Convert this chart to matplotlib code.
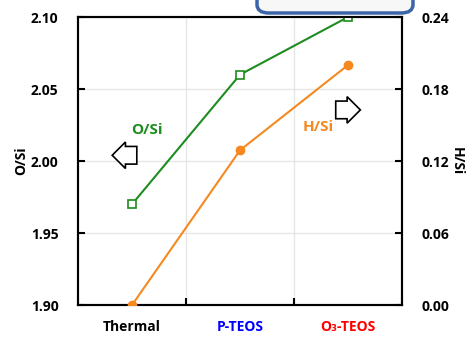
import matplotlib
matplotlib.use("Agg")
from matplotlib import pyplot as plt
from matplotlib.patches import FancyBboxPatch

plt.rcParams['font.family'] = ['Open Sans', 'DejaVu Sans']
plt.rcParams['font.weight'] = 'bold'

categories = ["Thermal", "P-TEOS", "O\u2083-TEOS"]
cat_colors = ["black", "blue", "red"]
o_si = [1.970, 2.060, 2.100]
h_si = [0.000, 0.129, 0.200]

green = '#1e8c1e'
orange = '#f5891f'

fig = plt.figure(figsize=(4.73, 3.38), dpi=100)
ax = fig.add_axes([0.165, 0.0976, 0.685, 0.852])
ax2 = ax.twinx()

x = range(len(categories))
ax.plot(x, o_si, color=green, lw=1.5, marker='s', ms=5.5, mfc='white', mec=green, mew=1.2, zorder=3)
ax2.plot(x, h_si, color=orange, lw=1.5, marker='o', ms=6, mfc=orange, mec=orange, zorder=3)

ax.set_xlim(-0.5, 2.5)
ax.set_ylim(1.90, 2.10)
ax.set_yticks([1.90, 1.95, 2.00, 2.05, 2.10])
ax.set_yticklabels(["%.2f" % v for v in [1.90, 1.95, 2.00, 2.05, 2.10]])
ax2.set_ylim(0, 0.24)
ax2.set_yticks([0, 0.06, 0.12, 0.18, 0.24])
ax2.set_yticklabels(["%.2f" % v for v in [0, 0.06, 0.12, 0.18, 0.24]])

ax.set_xticks([0.5, 1.5])
ax.set_xticklabels([])
ax.set_xticks(list(x), minor=True)
ax.set_xticklabels(categories, minor=True)
ax.tick_params(axis='x', which='minor', length=0, pad=11, labelsize=10)
ax.tick_params(axis='x', which='major', direction='in', length=5, width=1.5)
for lab, c in zip(ax.get_xticklabels(minor=True), cat_colors):
    lab.set_color(c)
    lab.set_fontweight('bold')

ax.tick_params(axis='y', direction='in', length=5, width=1.5, labelsize=10, pad=14)
ax2.tick_params(axis='y', direction='in', length=5, width=1.5, labelsize=10, pad=14)
for a in (ax, ax2):
    for lab in a.get_yticklabels():
        lab.set_fontweight('bold')
    for s in a.spines.values():
        s.set_linewidth(1.5)

ax.grid(True, which='major', color='#e6e6e6', lw=1)
ax.set_axisbelow(True)

ax.set_ylabel("O/Si", fontsize=10, fontweight='bold', labelpad=2)
ax2.set_ylabel("H/Si", fontsize=10, fontweight='bold', rotation=270, labelpad=10)

ax.text(0.14, 2.0215, "O/Si", color=green, fontsize=11, fontweight='bold', ha='center', va='center')
ax2.text(1.72, 0.148, "H/Si", color=orange, fontsize=11, fontweight='bold', ha='center', va='center')

ax.text(-0.04, 2.004, "    ", fontsize=8, ha='center', va='center',
        bbox=dict(boxstyle='larrow,pad=0.3', fc='white', ec='black', lw=1.2))
ax.text(1.97, 2.0355, "    ", fontsize=8, ha='center', va='center',
        bbox=dict(boxstyle='rarrow,pad=0.3', fc='white', ec='black', lw=1.2))

box = FancyBboxPatch((257 / 473, (338 - 13) / 338), 156 / 473, 0.1,
                     boxstyle='round,pad=0,rounding_size=0.025',
                     transform=fig.transFigure, fc='#f7f7f7', ec='#3c64a8', lw=2.5,
                     clip_on=False)
fig.patches.append(box)

fig.savefig("out.png", dpi=100)
